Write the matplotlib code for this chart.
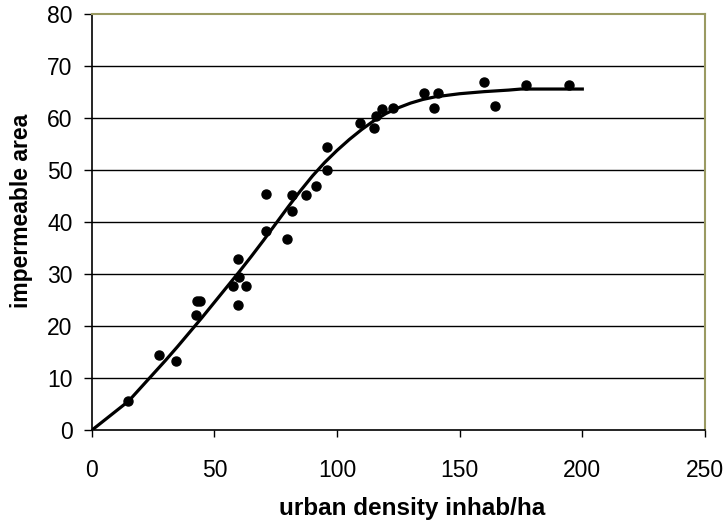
import matplotlib.pyplot as plt

plt.rcParams['font.family'] = ['Liberation Sans', 'DejaVu Sans']

# measured points (urban density, impermeable area)
dens = [14.8, 27.4, 34.3, 42.4, 42.7, 44.2, 57.6, 59.5, 59.5, 60.1, 62.8,
        71.0, 71.0, 79.5, 81.6, 81.6, 87.3, 91.4, 95.7, 95.7, 109.3, 115.0,
        115.8, 118.3, 122.9, 135.4, 139.5, 141.1, 159.9, 164.5, 177.0, 194.7]
imp = [5.6, 14.4, 13.3, 22.2, 24.8, 24.8, 27.8, 33.0, 24.0, 29.5, 27.8,
       45.5, 38.3, 36.7, 42.2, 45.3, 45.3, 46.9, 54.5, 50.1, 59.1, 58.2,
       60.4, 61.7, 61.9, 64.9, 62.0, 64.9, 67.0, 62.4, 66.4, 66.4]

# model curve
cx = [0, 15, 20, 25, 30, 35, 40, 45, 50, 55, 60, 65, 70, 75, 80, 85, 90,
      95, 100, 105, 110, 115, 120, 125, 130, 135, 140, 150, 160, 170, 175, 200]
cy = [0, 5.6, 8.2, 10.8, 13.4, 16.1, 18.9, 21.7, 24.6, 27.5, 30.4, 33.4,
      36.5, 39.7, 42.9, 46.0, 48.9, 51.5, 53.8, 55.9, 57.8, 59.5, 60.9,
      62.0, 62.9, 63.6, 64.1, 64.7, 65.1, 65.4, 65.6, 65.6]

fig = plt.figure(figsize=(7.23, 5.24), dpi=100)
ax = fig.add_axes([0.127, 0.179, 0.848, 0.794])

for v in range(10, 80, 10):
    ax.axhline(v, color='black', lw=1.0, zorder=1)

ax.plot(cx, cy, color='black', lw=2.3, zorder=3)
ax.plot(dens, imp, 'o', color='black', ms=6.5, zorder=4)

ax.set_xlim(0, 250)
ax.set_ylim(0, 80)
ax.set_xticks(range(0, 251, 50))
ax.set_yticks(range(0, 81, 10))
ax.tick_params(direction='out', width=1, labelsize=16.5, color='black')
ax.tick_params(axis='x', length=5, pad=16)
ax.tick_params(axis='y', length=6, pad=8)

for s in ['left', 'bottom']:
    ax.spines[s].set_color('black')
    ax.spines[s].set_linewidth(1.2)
for s in ['top', 'right']:
    ax.spines[s].set_color('#9a9a62')
    ax.spines[s].set_linewidth(1.5)

ax.set_xlabel('urban density inhab/ha', fontsize=17.5, fontweight='bold')
ax.set_ylabel('impermeable area', fontsize=16.5, fontweight='bold')
ax.xaxis.set_label_coords(0.522, -0.161)
ax.yaxis.set_label_coords(-0.096, 0.526)

fig.savefig('out.png', dpi=100)
